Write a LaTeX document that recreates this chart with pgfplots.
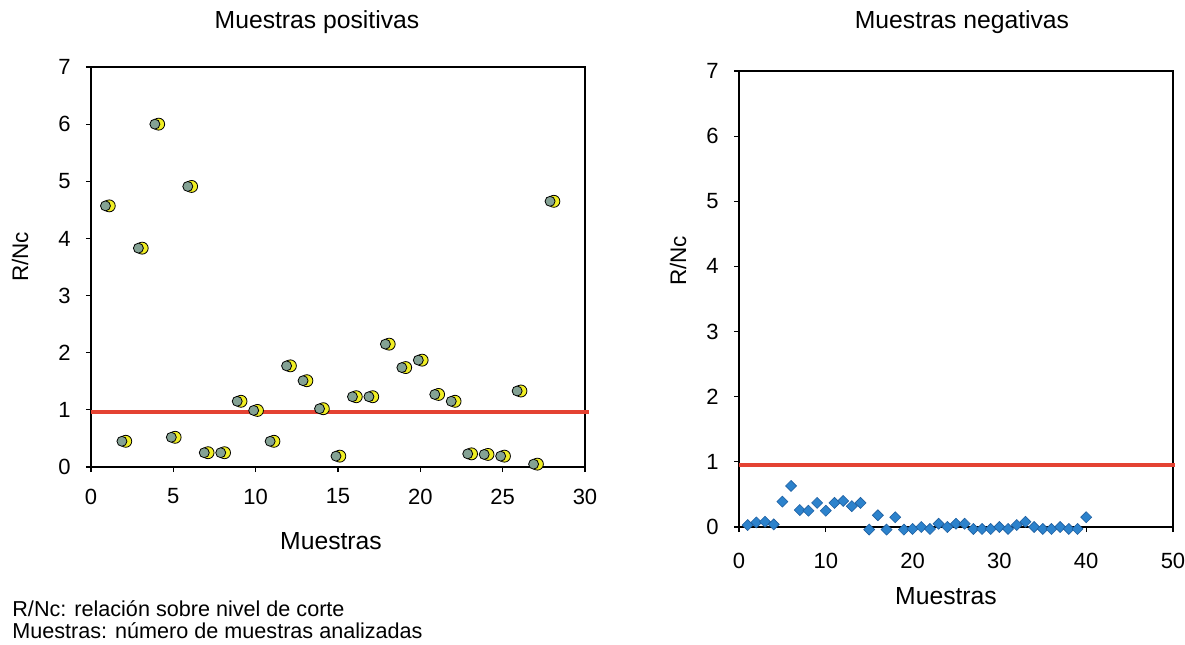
\documentclass[border=0pt]{standalone}
\usepackage{fontspec}
\setmainfont{Liberation Sans}
\usepackage{pgfplots}
\pgfplotsset{compat=1.18}

\definecolor{cutred}{RGB}{228,66,50}
\definecolor{ylw}{RGB}{240,238,36}
\definecolor{dotgreen}{RGB}{132,162,148}
\definecolor{dblue}{RGB}{44,130,204}
\definecolor{dbluedark}{RGB}{30,95,160}

\pgfplotsset{rstyle/.style={
  scale only axis,
  axis line style={black, line width=0.7pt},
  tick style={black, line width=0.6pt},
  tick align=outside,
  major tick length=2.5pt,
  tick pos=left,
  ymin=0, ymax=7, ytick={0,1,...,7},
  ticklabel style={font=\fontsize{11}{13}\selectfont},
  /pgf/number format/assume math mode=true,
  yticklabel shift=4.2pt,
  clip=false,
}}

\pgfplotstableread{
x y
1 4.57
2 0.45
3 3.83
4 6.00
5 0.52
6 4.91
7 0.25
8 0.25
9 1.15
10 0.99
11 0.45
12 1.77
13 1.51
14 1.02
15 0.19
16 1.23
17 1.23
18 2.15
19 1.74
20 1.87
21 1.27
22 1.15
23 0.23
24 0.22
25 0.19
26 1.33
27 0.05
28 4.65
}\positivas

\pgfplotstableread{
x y
1 0.03
2 0.07
3 0.08
4 0.04
5 0.39
6 0.63
7 0.26
8 0.25
9 0.37
10 0.25
11 0.37
12 0.40
13 0.32
14 0.37
15 -0.04
16 0.18
17 -0.04
18 0.15
19 -0.04
20 -0.03
21 0.00
22 -0.03
23 0.05
24 0.00
25 0.05
26 0.05
27 -0.03
28 -0.03
29 -0.03
30 0.00
31 -0.03
32 0.03
33 0.08
34 0.00
35 -0.03
36 -0.03
37 0.00
38 -0.03
39 -0.03
40 0.15
}\negativas

\begin{document}
\begin{tikzpicture}
\useasboundingbox (0pt,0pt) rectangle (592.5pt,322pt);

% ---- left panel
\begin{axis}[rstyle,
  at={(45.5pt,88.5pt)}, anchor=south west,
  width=247pt, height=200pt,
  xmin=0, xmax=30, xtick={0,5,...,30},
  xticklabel shift=4.8pt,
]
\addplot[cutred, line width=2pt] coordinates {(0,0.97) (30.25,0.97)};
\addplot[only marks, mark=*, mark size=3pt,
  mark options={draw=none, fill=ylw, xshift=0.9pt}] table[x=x,y=y] {\positivas};
\addplot[only marks, mark=*, mark size=2.5pt,
  mark options={draw=none, fill=dotgreen, xshift=-1pt}] table[x=x,y=y] {\positivas};
\end{axis}

% ---- right panel
\begin{axis}[rstyle,
  at={(369.5pt,58.5pt)}, anchor=south west,
  width=217pt, height=228pt,
  xmin=0, xmax=50, xtick={0,10,...,50},
  xticklabel shift=6.8pt,
]
\addplot[cutred, line width=2pt] coordinates {(0,0.95) (50.2,0.95)};
\addplot[only marks, mark=square*, mark size=1.95pt,
  mark options={rotate=45, fill=dblue, draw=dbluedark, line width=0.3pt}] table[x=x,y=y] {\negativas};
\end{axis}

% ---- titles and labels
\node[anchor=base, font=\fontsize{12.35}{14}\selectfont] at (158.5pt,307.5pt) {Muestras positivas};
\node[anchor=base, font=\fontsize{12.35}{14}\selectfont] at (481pt,307.75pt) {Muestras negativas};
\node[rotate=90, font=\fontsize{11.25}{13}\selectfont] at (10pt,193.5pt) {R/Nc};
\node[rotate=90, font=\fontsize{11.25}{13}\selectfont] at (339pt,191.5pt) {R/Nc};
\node[anchor=base, font=\fontsize{12.35}{14}\selectfont] at (165.5pt,47.5pt) {Muestras};
\node[anchor=base, font=\fontsize{12.35}{14}\selectfont] at (473pt,20pt) {Muestras};
\node[anchor=base west, inner sep=0pt, font=\fontsize{10.8}{13}\selectfont] at (6pt,14pt) {R/Nc: relación sobre nivel de corte};
\node[anchor=base west, inner sep=0pt, font=\fontsize{10.8}{13}\selectfont] at (6pt,3pt) {Muestras: número de muestras analizadas};
\end{tikzpicture}
\end{document}
